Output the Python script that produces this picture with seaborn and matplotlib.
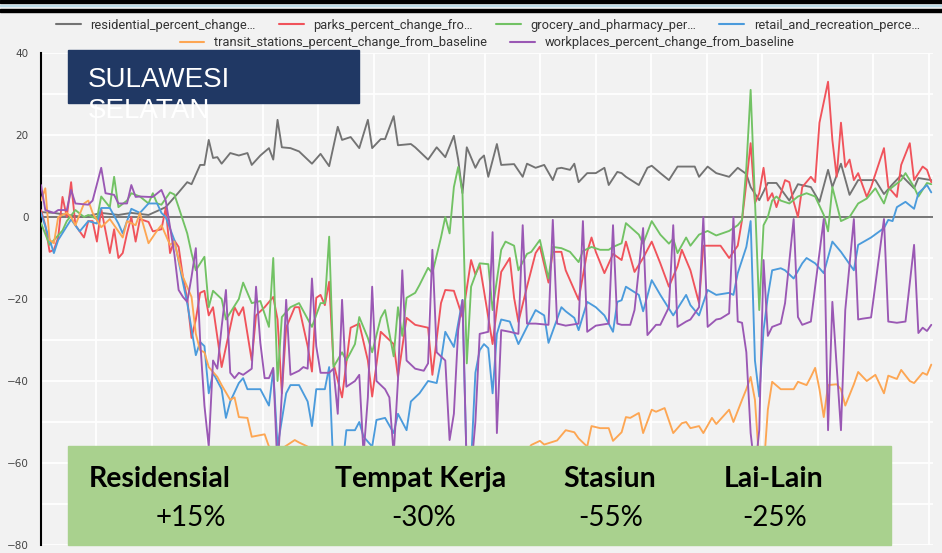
import numpy as np
import pandas as pd
import matplotlib
matplotlib.use('Agg')
import matplotlib.pyplot as plt
import seaborn as sns
from matplotlib.patches import Rectangle
from matplotlib.lines import Line2D
from matplotlib import font_manager

# ---------- dados (dias desde 15/02/2020, % de variação vs baseline) ----------
res_dia = [0, 3, 6, 10, 14, 18, 21, 25, 29, 32, 34, 35, 37, 38, 39, 40, 41, 42, 44, 46, 48, 49, 51, 53, 54,
           55, 56, 58, 60, 63, 65, 67, 69, 70, 72, 74, 76, 77, 79, 80, 82, 83, 86, 87, 90, 92, 94, 96, 97,
           98, 99, 101, 102, 103, 104, 106, 107, 110, 112, 113, 115, 117, 119, 120, 121, 123, 124, 125, 127,
           129, 131, 132, 134, 135, 136, 139, 141, 142, 144, 146, 148, 152, 153, 155, 157, 160, 162, 164,
           165, 167, 169, 171, 174, 176, 179, 181, 183, 184, 186, 188, 190, 192, 194, 196, 198, 200, 203,
           204, 207]
res_val = [1.2, 1, 0.5, 0, 1, 0.5, 1, 0.5, 2.4, 6, 8.5, 8, 12.7, 12.7, 18.8, 14.4, 14.6, 13, 15.6, 15, 15.6,
           12.7, 15, 16.8, 14, 23.7, 17, 16.8, 16, 13, 15.4, 12.4, 22, 18.8, 19.5, 16.8, 23.7, 16.8, 19, 19,
           24.6, 17.5, 17.8, 17, 14, 17, 14.6, 19.8, 14, 5.8, 17, 12, 14, 15, 9.8, 17.8, 12.7, 12.9, 9.8, 13,
           12, 12.7, 9, 11.8, 12, 11.5, 13, 8.5, 10.7, 10.7, 12, 7.8, 11, 10.7, 9.8, 7.8, 12, 12.5, 10.7, 9,
           12.3, 12.3, 9.8, 12.3, 10.7, 9.8, 12, 10.5, 7.3, 4.1, 8.3, 8.3, 4, 8, 7.3, 3.7, 11.5, 7.3, 13, 5.4,
           9, 9, 9, 5.6, 8, 10.2, 7, 9.5, 9]

park_dia = [0, 1, 2, 3, 4, 5, 6, 7, 8, 10, 11, 12, 13, 14, 16, 17, 18, 19, 20, 21, 22, 23, 25, 26, 28, 29,
            30, 31, 32, 33, 34, 35, 36, 37, 38, 39, 40, 42, 43, 45, 46, 47, 49, 50, 52, 54, 55, 56, 57, 59,
            60, 62, 63, 64, 65, 66, 67, 68, 70, 72, 74, 76, 77, 79, 81, 82, 83, 85, 87, 90, 91, 93, 94, 96,
            98, 100, 101, 102, 103, 105, 107, 109, 110, 111, 113, 115, 116, 118, 119, 121, 122, 125, 127,
            128, 129, 131, 133, 135, 136, 138, 140, 142, 144, 146, 148, 149, 151, 153, 154, 156, 158, 160,
            162, 163, 164, 165, 166, 167, 168, 169, 170, 171, 173, 174, 175, 176, 177, 179, 180, 181, 183,
            184, 185, 186, 187, 188, 189, 190, 192, 193, 196, 197, 199, 200, 202, 203, 205, 206, 207]
park_val = [1.7, -2, -8.5, -8, -5, 4.9, 0, 8.5, -2, -5, -1, -1, -6, 2, -8.8, -3, -10, -8.8, -4, 0, -6, -0.5,
            -1.2, -3.5, -3, 2.2, -8.8, -5.7, -7.3, -14.6, -20, -29.5, -25, -18.5, -18, -24, -22, -36.6,
            -31.7, -22, -24, -22, -35, -24, -22, -19.5, -25, -43, -27, -22, -22, -31.5, -37.7, -19.7, -19,
            -21.5, -15.8, -35.7, -44, -27, -26, -35, -43.8, -28, -30, -31, -39, -24.6, -26.3, -27, -38.5,
            -21, -17.8, -18, -24.4, -10.5, -14, -11.7, -18, -31, -13.4, -10, -19.7, -25.6, -17, -8.8, -7.2,
            -16, -8.5, -8.5, -13, -20.2, -8.5, -5, -8.5, -13.7, -9, -10.5, -6, -13.4, -10, -6, -11.3, -17,
            -12, -8, -13, -21, -7, -7, -7, -10, -7, -0.7, 8.3, 18, 3.4, 5.8, 12, 4, 5.8, 2.4, 9, 8.5, 3.7, 0,
            7.3, 9.8, 8.5, 23, 33, 18.8, 9.8, 23, 12.2, 14, 9, 10.7, 4.9, 7.3, 16.8, 7.3, 4.9, 12.7, 18, 9,
            12.3, 11.5, 8.5]

groc_dia = [0, 2, 5, 6, 8, 10, 11, 13, 14, 16, 17, 18, 20, 21, 23, 25, 26, 27, 28, 30, 31, 32, 34, 35, 36,
            38, 39, 40, 42, 43, 46, 47, 49, 51, 53, 54, 55, 56, 58, 60, 63, 65, 66, 67, 68, 70, 71, 73, 74,
            76, 77, 79, 80, 82, 83, 84, 85, 87, 88, 90, 91, 93, 94, 95, 96, 97, 98, 99, 100, 102, 104, 105,
            107, 108, 110, 111, 113, 114, 116, 118, 119, 121, 123, 125, 126, 128, 130, 132, 133, 135, 136,
            139, 140, 142, 144, 146, 147, 148, 150, 151, 153, 155, 157, 160, 162, 163, 164, 165, 166, 167,
            168, 169, 170, 171, 172, 174, 176, 178, 180, 182, 183, 184, 186, 188, 190, 192, 194, 196, 197,
            200, 201, 203, 204, 206, 207]
groc_val = [-1.5, -6.8, -3.3, -1, 1.7, 0, 0.5, -0.5, 5, 2.4, 9.8, 2.4, 4, 5.8, 5, 3.3, 5.8, 3.3, 3, 6, 5.5,
            2.4, -4, -8.8, -13, -9.7, -22, -18, -20, -25, -20, -16, -21, -20.5, -26.8, -10, -40, -24.4, -22,
            -21, -26.8, -21, -21, -4.8, -36.6, -33, -35, -31, -24.4, -29.5, -33, -24.6, -22.7, -34, -22, -29,
            -19.7, -18.5, -16.6, -12.4, -13.7, -5, 0, -4, 7.3, 12.2, 5.8, -35.7, -17, -11.3, -11.5, -22.7,
            -8, -6, -7, -13, -9, -8.5, -5.6, -15, -7.3, -7.6, -8.5, -11, -8.3, -7.3, -8, -8, -7.3, -6.4,
            -1.5, -4.3, -6.5, -1, -4.3, -6.5, -5.3, -8.8, -5, -7, -4.3, -3.4, -4.5, -3.4, -2, -0.7, 12, 31,
            4, -22.7, -2, 0, 4, 5, 4, 3.3, 5, 5.8, 5, 0.5, -3.5, 7.3, -1, 0, 3.3, 4.5, 7, 3.3, 6.5, 9, 10.7,
            7.3, 5, 8.3, 8]

ret_dia = [0, 3, 4, 7, 9, 11, 13, 14, 16, 18, 19, 21, 23, 25, 27, 28, 29, 31, 33, 34, 36, 37, 38, 39, 40,
           42, 43, 44, 46, 47, 48, 50, 51, 53, 54, 55, 57, 58, 60, 62, 63, 64, 66, 67, 68, 70, 71, 73, 74,
           75, 77, 78, 80, 82, 83, 85, 86, 88, 90, 92, 93, 94, 96, 97, 98, 99, 100, 101, 102, 103, 104, 105,
           106, 107, 109, 111, 113, 115, 117, 118, 121, 122, 124, 125, 127, 129, 131, 133, 134, 135, 136,
           139, 140, 142, 144, 147, 149, 150, 151, 153, 155, 157, 160, 161, 162, 164, 165, 166, 167, 168,
           169, 170, 172, 173, 175, 177, 178, 180, 182, 184, 186, 189, 190, 193, 196, 197, 198, 199, 201,
           203, 204, 206, 207]
ret_val = [1, -8.8, -5.6, -0.6, -3.5, -1, -1.6, 2.2, 2.2, -1.6, -4, 2, 1, 3.3, 3.3, 1, 0, -5.6, -16, -21,
           -33.7, -30.5, -31.5, -43, -38, -42, -49, -45, -40.5, -39.3, -42, -42, -42, -46, -37.3, -56, -43,
           -41, -41, -45, -51, -42, -42, -36.6, -62, -62, -52, -52, -50, -53.6, -56, -49.5, -49, -52.7, -48,
           -52, -45, -43, -40, -40.5, -35, -28, -31.7, -26, -20.2, -62, -60, -38, -32.5, -31, -32, -43,
           -28.5, -25, -25.5, -31, -26.8, -22.7, -24, -30.7, -22, -23, -24.6, -27.6, -20.7, -22, -24, -28,
           -20.7, -20.3, -17, -19, -23, -15.4, -19, -24, -20.7, -19, -21.5, -24, -17.8, -19, -18.5, -19,
           -13.7, -7.3, -1, -35, -43.8, -27.6, -19.3, -13, -12.5, -13, -15, -11.3, -10, -11.3, -13.7, -6,
           -8.5, -13, -6.8, -5, -2.7, -0.7, -1, 2.4, 3.7, 2, 5.8, 7.8, 6]

tra_dia = [0, 1, 2, 3, 4, 6, 7, 8, 10, 11, 12, 14, 16, 18, 19, 20, 22, 23, 25, 27, 28, 30, 31, 32, 33, 35,
           36, 37, 38, 39, 41, 42, 44, 45, 46, 48, 49, 52, 53, 55, 56, 59, 60, 62, 63, 66, 70, 75, 80, 85,
           90, 95, 99, 103, 107, 110, 113, 114, 116, 117, 120, 122, 124, 125, 127, 128, 130, 132, 133, 135,
           136, 137, 139, 140, 142, 143, 145, 147, 149, 150, 151, 153, 154, 156, 157, 160, 161, 163, 164,
           165, 166, 167, 168, 169, 170, 172, 173, 175, 176, 178, 179, 180, 181, 182, 183, 185, 186, 187,
           189, 190, 192, 194, 196, 197, 199, 200, 202, 203, 205, 206, 207]
tra_val = [4, 7, -5.6, -6.4, 0, 1, 0, -2, 3.3, 4, 1, -2.5, -0.5, -3.5, -5, -1, -2, 1, -6.4, -3.3, -2, -6.8,
           -6, -10.5, -14.6, -19.5, -28.5, -32.5, -33, -36.6, -39, -41, -44.6, -44, -48.8, -49, -53.6, -53,
           -56, -56.5, -56.5, -54.4, -55, -56, -58, -60, -62, -61, -63, -62, -60, -61, -65, -60, -59, -58,
           -57, -55.6, -54.6, -55.5, -54.5, -52, -52.5, -54, -56, -51, -51.5, -51.5, -54.6, -52.5, -48.8,
           -49, -47.8, -52.7, -47, -47.5, -46.6, -52.7, -50.3, -50, -51.5, -51, -52.7, -49, -50.5, -47, -50,
           -44.6, -42, -39, -44.6, -60, -62, -47, -40.2, -42, -42, -42, -40.2, -41, -39, -36.8, -42, -48.8,
           -41, -40.8, -42, -46, -40.8, -37.8, -40, -38.5, -43, -38.7, -39.5, -37.3, -40, -40.5, -38, -38.5,
           -36]

work_dia = [0, 1, 3, 4, 6, 7, 8, 11, 12, 14, 15, 17, 18, 20, 21, 22, 23, 25, 26, 28, 29, 30, 31, 32, 33,
            34, 35, 36, 37, 38, 39, 40, 41, 42, 43, 44, 45, 46, 47, 49, 50, 51, 52, 53, 54, 55, 56, 57, 58,
            60, 61, 62, 63, 64, 65, 67, 68, 69, 70, 71, 73, 74, 75, 76, 77, 78, 80, 81, 82, 83, 84, 85, 87,
            89, 90, 91, 92, 94, 95, 96, 97, 98, 99, 100, 101, 102, 104, 105, 106, 107, 109, 111, 112, 113,
            115, 118, 119, 120, 122, 125, 126, 127, 129, 132, 133, 134, 135, 137, 138, 140, 141, 143, 144,
            146, 147, 148, 150, 151, 153, 154, 155, 157, 158, 160, 161, 162, 163, 164, 165, 166, 167, 168,
            169, 170, 172, 173, 175, 176, 177, 179, 180, 182, 183, 184, 186, 187, 189, 190, 191, 193, 196,
            197, 199, 201, 203, 204, 205, 206, 207]
work_val = [7.8, 1.7, 1, 1.7, 1.7, 6.6, 3.3, 3, 4, 12, 5.8, 5.4, 3.3, 3.3, 7.8, 4.9, 5, 4.9, 4.9, 6.6, 4,
            -2.4, -9, -17.8, -19.5, -20.7, -14.6, -7.6, -30, -46, -56, -35, -37, -26.8, -17.8, -38, -39.3,
            -38, -38.5, -37, -17, -30.7, -39.3, -39.3, -36.8, -62, -43, -20.2, -38.5, -37.5, -36.6, -37,
            -15, -31.5, -38, -38, -37, -48, -20.2, -41.4, -40, -38.5, -58, -44, -17, -40, -42, -44, -58,
            -39.8, -13, -35, -37, -37.5, -35.7, -8, -33, -35, -54.4, -48, -27.6, -20.3, -62, -62, -50,
            -28.5, -28, -3.7, -52.7, -27.6, -28, -28.5, -2, -26, -26, -26.3, -0.7, -26, -26.5, -26, -1, -28,
            -26.5, -26, -2, -26, -26.3, -26.3, -22.7, -2.7, -28.8, -26.3, -26.3, -22, -2, -26.8, -25.5, -25,
            -22, 0, -26.8, -25, -24.8, -23.5, 0, -25.5, -25.8, -33, -52.7, -62, -52, -10.5, -29, -26.8, -26,
            -21, -0.5, -24.4, -26.3, -25.5, -17, -0.5, -52, -20.7, -52, -22.7, -0.5, -25, -24.8, -24.5,
            -0.5, -25.5, -25.8, -25.5, -6.8, -28.3, -27, -27.8, -26.3]

series = [
    ('residential_percent_change…', res_dia, res_val, '#737373'),
    ('parks_percent_change_fro…', park_dia, park_val, '#f0535b'),
    ('grocery_and_pharmacy_per…', groc_dia, groc_val, '#72c264'),
    ('retail_and_recreation_perce…', ret_dia, ret_val, '#4b9bdc'),
    ('transit_stations_percent_change_from_baseline', tra_dia, tra_val, '#fda653'),
    ('workplaces_percent_change_from_baseline', work_dia, work_val, '#9a58b4'),
]

resumo_cat = ['Residensial', 'Tempat Kerja', 'Stasiun', 'Lai-Lain']
resumo_val = ['+15%', '-30%', '-55%', '-25%']

# ---------- figura ----------
W, H = 942, 553
BG = '#f2f2f2'
sns.set_theme(style='whitegrid')
nomes = {f.name for f in font_manager.fontManager.ttflist}
fonte_leg = 'Liberation Sans Narrow' if 'Liberation Sans Narrow' in nomes else 'Roboto'
fonte_box = 'Lato' if 'Lato' in nomes else 'DejaVu Sans'


def fx(x):
    return x / W


def fy(y):
    return 1 - y / H


fig = plt.figure(figsize=(W / 100, H / 100), dpi=100, facecolor=BG)
ax = fig.add_axes([fx(41), fy(545), fx(933) - fx(41), fy(53) - fy(545)])
ax.set_facecolor(BG)

for nome, dia, val, cor in series:
    sns.lineplot(x=dia, y=val, color=cor, linewidth=1.35, estimator=None, sort=False, ax=ax, zorder=3,
                 solid_joinstyle='round', solid_capstyle='round')

ax.axhline(0, color='#5f5f5f', linewidth=1.2, zorder=2)

base = pd.Timestamp('2020-02-15')
ticks = np.arange(17) * 12.9
ax.set_xticks(ticks)
ax.set_xticklabels([(base + pd.Timedelta(days=int(round(t)))).strftime('%d %b') for t in ticks])
ax.set_xlim(0, 207.4)
ax.set_ylim(-80, 40)
ax.set_yticks(np.arange(-80, 41, 20))
ax.set_yticks(np.arange(-70, 40, 20), minor=True)
ax.grid(True, which='both', color='white', linewidth=1.3, zorder=0)
ax.tick_params(axis='both', which='both', length=0, labelsize=7.5, colors='#444444')
ax.tick_params(axis='y', pad=9)
ax.tick_params(axis='x', pad=5.5, colors='#9a9a9a')
for s in ['top', 'right', 'bottom']:
    ax.spines[s].set_visible(False)
ax.spines['left'].set_color('black')
ax.spines['left'].set_linewidth(1.5)
ax.set_xlabel('')
ax.set_ylabel('')

# legenda em duas linhas
hand = [Line2D([0], [0], color=c, lw=1.5) for _, _, _, c in series]
labs = [n for n, _, _, _ in series]
leg_kw = dict(frameon=False, loc='center', handlelength=1.9, handletextpad=0.75,
              prop={'family': fonte_leg, 'size': 9.3}, labelcolor='#333333')
l1 = fig.legend(hand[:4], labs[:4], ncol=4, columnspacing=1.8,
                bbox_to_anchor=(fx(488), fy(25)), **leg_kw)
l2 = fig.legend(hand[4:], labs[4:], ncol=2, columnspacing=1.8,
                bbox_to_anchor=(fx(487), fy(43)), **leg_kw)

# faixas no topo
fig.add_artist(Rectangle((0, fy(3)), 1, 3 / H, transform=fig.transFigure, color='black', zorder=5))
fig.add_artist(Rectangle((0, fy(6)), 1, 1.5 / H, transform=fig.transFigure, color='#bcdce8', zorder=5))
fig.add_artist(Rectangle((0, fy(12)), 1, 3 / H, transform=fig.transFigure, color='black', zorder=5))

# caixa do título
fig.add_artist(Rectangle((fx(68), fy(103)), fx(359) - fx(68), 53 / H, transform=fig.transFigure,
                         color='#203864', zorder=5))
fig.text(fx(88), fy(87), 'SULAWESI', color='white', fontsize=20, family='Liberation Sans',
         va='baseline', zorder=6)
fig.text(fx(88), fy(118), 'SELATAN', color='white', fontsize=20, family='Liberation Sans',
         va='baseline', zorder=6)

# caixa verde com resumo
fig.add_artist(Rectangle((fx(68), fy(545)), fx(891) - fx(68), 99 / H, transform=fig.transFigure,
                         color='#a9d18e', zorder=5))
cat_x = [89, 335, 563, 724]
val_x = [191, 424, 611, 775]
for cx, vx, c, v in zip(cat_x, val_x, resumo_cat, resumo_val):
    fig.text(fx(cx), fy(487), c, fontsize=20.5, fontweight='bold', family=fonte_box,
             color='black', va='baseline', zorder=6)
    fig.text(fx(vx), fy(526), v, fontsize=20, family=fonte_box,
             color='black', va='baseline', ha='center', zorder=6)

fig.savefig('out.png', dpi=100, facecolor=BG)
